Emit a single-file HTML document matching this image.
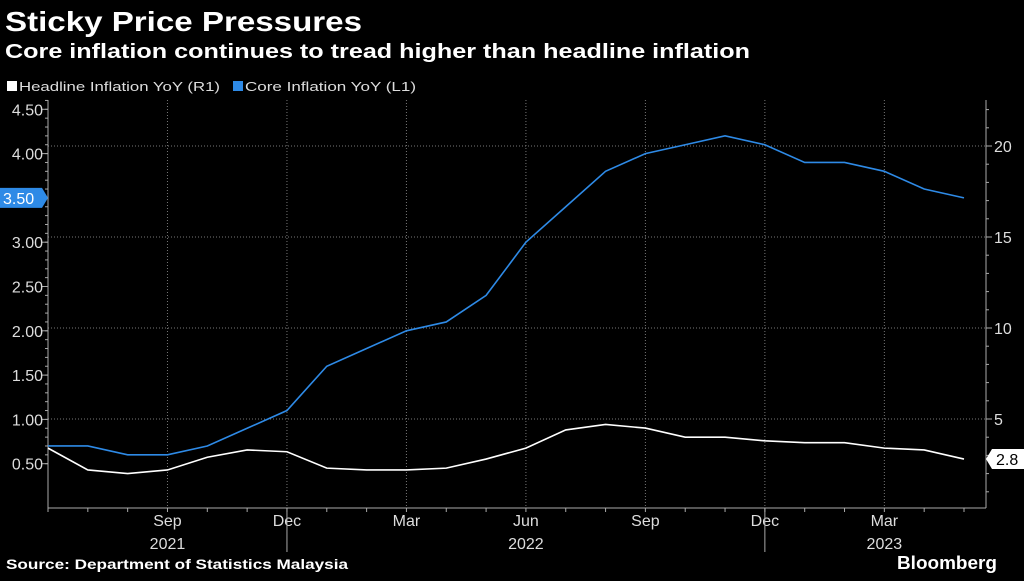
<!DOCTYPE html>
<html><head><meta charset="utf-8"><style>
body{margin:0;background:#000;width:1024px;height:576px;overflow:hidden;font-family:"Liberation Sans",sans-serif;color:#fff}
svg text{font-family:"Liberation Sans",sans-serif}
</style></head><body>
<svg width="1024" height="576">
<rect width="1024" height="576" fill="#000"/>
<text x="5" y="31" font-size="28" font-weight="bold" fill="#fff" textLength="357" lengthAdjust="spacingAndGlyphs">Sticky Price Pressures</text>
<text x="5" y="58" font-size="20" font-weight="bold" fill="#fff" textLength="745" lengthAdjust="spacingAndGlyphs">Core inflation continues to tread higher than headline inflation</text>
<g>
<rect x="7" y="81" width="10" height="10" fill="#fff"/>
<text x="19" y="91" font-size="13" fill="#ddd" textLength="201" lengthAdjust="spacingAndGlyphs">Headline Inflation YoY (R1)</text>
<rect x="233" y="81" width="10" height="10" fill="#2e8ae6"/>
<text x="245" y="91" font-size="13" fill="#ddd" textLength="171" lengthAdjust="spacingAndGlyphs">Core Inflation YoY (L1)</text>
</g>
<g id="grid"></g><g id="axes"></g><g id="series"></g>
<text x="6" y="569" font-size="14" font-weight="bold" fill="#fff" textLength="342" lengthAdjust="spacingAndGlyphs">Source: Department of Statistics Malaysia</text>
<text x="897" y="569" font-size="18" font-weight="bold" fill="#fff" textLength="100" lengthAdjust="spacingAndGlyphs">Bloomberg</text>
</svg>
<script>
const months=["Jun21","Jul21","Aug21","Sep21","Oct21","Nov21","Dec21","Jan22","Feb22","Mar22","Apr22","May22","Jun22","Jul22","Aug22","Sep22","Oct22","Nov22","Dec22","Jan23","Feb23","Mar23","Apr23","May23"];
const core=[0.7,0.7,0.6,0.6,0.7,0.9,1.1,1.6,1.8,2.0,2.1,2.4,3.0,3.4,3.8,4.0,4.1,4.2,4.1,3.9,3.9,3.8,3.6,3.5];
const headline=[3.4,2.2,2.0,2.2,2.9,3.3,3.2,2.3,2.2,2.2,2.3,2.8,3.4,4.4,4.7,4.5,4.0,4.0,3.8,3.7,3.7,3.4,3.3,2.8];
const leftTicks=[0.5,1.0,1.5,2.0,2.5,3.0,3.5,4.0,4.5];
const rightTicks=[5,10,15,20];
const xLabels=[{i:3,t:"Sep"},{i:6,t:"Dec"},{i:9,t:"Mar"},{i:12,t:"Jun"},{i:15,t:"Sep"},{i:18,t:"Dec"},{i:21,t:"Mar"}];
const years=[{i:3,t:"2021"},{i:12,t:"2022"},{i:21,t:"2023"}];
const yearBreaks=[6,18];
const X0=48,X1=986,Y0=508,YT=100;
const x=i=>X0+i*(964-48)/23;
const yL=v=>508-v*88.6;
const yR=v=>510-v*18.2;
const NS="http://www.w3.org/2000/svg";
function mk(tag,attrs,parent,txt){const e=document.createElementNS(NS,tag);for(const k in attrs)e.setAttribute(k,attrs[k]);if(txt!=null)e.textContent=txt;document.getElementById(parent).appendChild(e);return e;}
xLabels.forEach(d=>{const e=mk("line",{x1:x(d.i),x2:x(d.i),y1:YT,y2:Y0,stroke:"#777","stroke-dasharray":"1,2"},"grid");

});
rightTicks.forEach(v=>{const e=mk("line",{x1:X0,x2:X1,y1:yR(v),y2:yR(v),stroke:"#777","stroke-dasharray":"1,2"},"grid");

});
let a=mk("line",{x1:X0,x2:X0,y1:YT,y2:Y0,stroke:"#aaa"},"axes");


a=mk("line",{x1:X1,x2:X1,y1:YT,y2:Y0,stroke:"#aaa"},"axes");


a=mk("line",{x1:X0,x2:X1,y1:Y0,y2:Y0,stroke:"#aaa"},"axes");


for(let v=0.5;v<=4.6;v+=0.1){mk("line",{x1:X0-3,x2:X0,y1:yL(v),y2:yL(v),stroke:"#aaa"},"axes");}
leftTicks.forEach(v=>{mk("line",{x1:X0-6,x2:X0,y1:yL(v),y2:yL(v),stroke:"#aaa"},"axes");
if(v===3.5)return;
const t=mk("text",{x:43,y:yL(v)+6,"font-size":16,fill:"#ddd","text-anchor":"end"},"axes",v.toFixed(2));

});
for(let v=1;v<=22;v++){mk("line",{x1:X1,x2:X1+(v%5?3:6),y1:yR(v),y2:yR(v),stroke:"#aaa"},"axes");}
rightTicks.forEach(v=>{const t=mk("text",{x:994,y:yR(v)+6,"font-size":16,fill:"#ddd"},"axes",String(v));

});
for(let i=0;i<months.length;i++){mk("line",{x1:x(i),x2:x(i),y1:Y0,y2:Y0+4,stroke:"#aaa"},"axes");}
xLabels.forEach(d=>{const t=mk("text",{x:x(d.i),y:526,"font-size":16,fill:"#ddd","text-anchor":"middle"},"axes",d.t);

});
years.forEach(d=>{const t=mk("text",{x:x(d.i),y:549,"font-size":16,fill:"#ddd","text-anchor":"middle"},"axes",d.t);

});
yearBreaks.forEach(i=>mk("line",{x1:x(i),x2:x(i),y1:Y0,y2:552,stroke:"#aaa"},"axes"));
let p=mk("polyline",{points:headline.map((v,i)=>x(i)+","+yR(v)).join(" "),fill:"none",stroke:"#fff","stroke-width":1.6},"series");


p=mk("polyline",{points:core.map((v,i)=>x(i)+","+yL(v)).join(" "),fill:"none",stroke:"#2e8ae6","stroke-width":1.6},"series");


const lc=core[core.length-1],yc=yL(lc);
let b=mk("polygon",{points:`0,${yc-10} 42,${yc-10} 48,${yc} 42,${yc+10} 0,${yc+10}`,fill:"#2e8ae6"},"series");


mk("text",{x:3,y:yc+6,"font-size":16,fill:"#fff"},"series",lc.toFixed(2));
const lh=headline[headline.length-1],yh=yR(lh);
b=mk("polygon",{points:`${X1},${yh} ${X1+6},${yh-10} 1024,${yh-10} 1024,${yh+10} ${X1+6},${yh+10}`,fill:"#fff"},"series");


mk("text",{x:996,y:yh+6,"font-size":16,fill:"#000"},"series",lh.toFixed(1));
</script>
</body></html>
